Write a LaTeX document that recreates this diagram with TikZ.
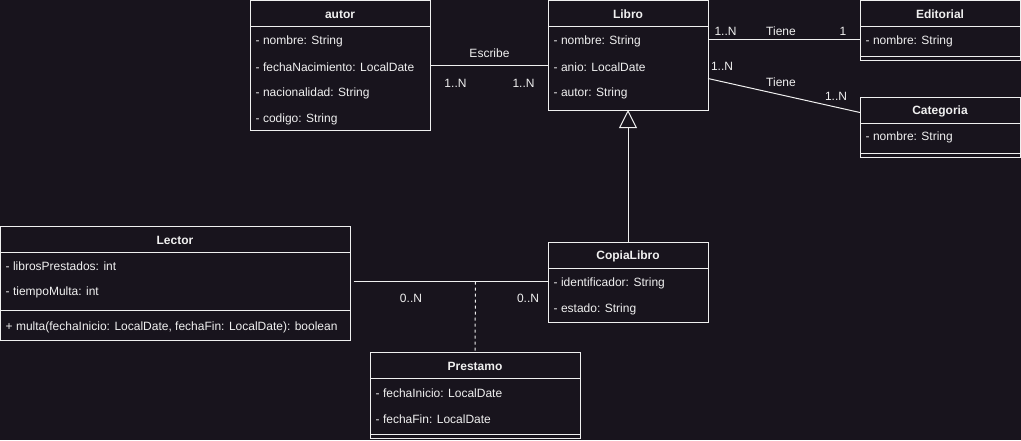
\documentclass[tikz,border=0pt]{standalone}
\usepackage{fontspec}
\setmainfont{Liberation Sans}
\usetikzlibrary{arrows.meta,calc}
\definecolor{bg}{RGB}{24,20,29}
\definecolor{fg}{RGB}{240,240,240}
\tikzset{
 cls/.style={draw=fg, fill=bg, line width=1pt, anchor=north west, inner sep=0pt, outer sep=0pt},
 hdr/.style={text=fg, font=\fontsize{12}{14}\selectfont\bfseries, inner sep=0pt, yshift=-1.2pt},
 attr/.style={text=fg, font=\fontsize{12}{14}\selectfont, anchor=west, inner sep=0pt, xshift=1.5pt, yshift=-1.5pt},
 lbl/.style={text=fg, font=\fontsize{12}{14}\selectfont, inner sep=0pt, yshift=-1.5pt},
 sepline/.style={draw=fg, line width=1pt},
 conn/.style={draw=fg, line width=1pt},
}
\begin{document}
\begin{tikzpicture}[x=1pt,y=-1pt]
\fill[bg] (0,0) rectangle (1021,440);
\useasboundingbox (0,0) rectangle (1021,440);

% autor
\node[cls, minimum width=180pt, minimum height=129.5pt] (autor) at (250,0.5) {};
\draw[sepline] (250,26) -- (430,26);
\node[hdr] (autorH) at (340,13) {autor};
\node[attr] (a1) at (254,39.5) {- nombre: String};
\node[attr] (a2) at (254,65.5) {- fechaNacimiento: LocalDate};
\node[attr] (a3) at (254,91.5) {- nacionalidad: String};
\node[attr] (a4) at (254,117.5) {- codigo: String};

% Libro
\node[cls, minimum width=160pt, minimum height=109.5pt] (Libro) at (548,0.5) {};
\draw[sepline] (548,26) -- (708,26);
\node[hdr] (libroH) at (628,13) {Libro};
\node[attr] (l1) at (552,39.5) {- nombre: String};
\node[attr] (l2) at (552,65.5) {- anio: LocalDate};
\node[attr] (l3) at (552,91.5) {- autor: String};

% Editorial
\node[cls, minimum width=160pt, minimum height=59.5pt] (Editorial) at (860,0.5) {};
\draw[sepline] (860,26) -- (1020,26);
\draw[sepline] (860,56) -- (1020,56);
\node[hdr] (editH) at (940,13) {Editorial};
\node[attr] (e1) at (864,39.5) {- nombre: String};

% Categoria
\node[cls, minimum width=160pt, minimum height=60pt] (Categoria) at (860,97) {};
\draw[sepline] (860,123) -- (1020,123);
\draw[sepline] (860,153) -- (1020,153);
\node[hdr] (catH) at (940,110) {Categoria};
\node[attr] (k1) at (864,136) {- nombre: String};

% Lector
\node[cls, minimum width=350pt, minimum height=114pt] (Lector) at (0.5,226) {};
\draw[sepline] (0.5,252) -- (350.5,252);
\draw[sepline] (0.5,310) -- (350.5,310);
\node[hdr] (lecH) at (175,239) {Lector};
\node[attr] (r1) at (4,265) {- librosPrestados: int};
\node[attr] (r2) at (4,291) {- tiempoMulta: int};
\node[attr] (r3) at (4,326) {+ multa(fechaInicio: LocalDate, fechaFin: LocalDate): boolean};

% CopiaLibro
\node[cls, minimum width=160pt, minimum height=80pt] (CopiaLibro) at (548,242) {};
\draw[sepline] (548,268) -- (708,268);
\node[hdr] (copH) at (628,255) {CopiaLibro};
\node[attr] (c1) at (552,281.5) {- identificador: String};
\node[attr] (c2) at (552,307.5) {- estado: String};

% Prestamo
\node[cls, minimum width=210pt, minimum height=86pt] (Prestamo) at (370,352.5) {};
\draw[sepline] (370,378) -- (580,378);
\draw[sepline] (370,434) -- (580,434);
\node[hdr] (preH) at (475,365) {Prestamo};
\node[attr] (p1) at (374,391.5) {- fechaInicio: LocalDate};
\node[attr] (p2) at (374,417.5) {- fechaFin: LocalDate};

% autor -- Libro
\draw[conn] (autor.east |- 0,65.5) -- (Libro.west |- 0,65.5);
\node[lbl] (escribe) at (489.5,51.5) {Escribe};
\node[lbl] (m1) at (455.5,81.5) {1..N};
\node[lbl] (m2) at (523.5,81.5) {1..N};

% Libro -- Editorial
\draw[conn] (Libro.east |- 0,39.5) -- (Editorial.west |- 0,39.5);
\node[lbl] (m3) at (725.5,29.5) {1..N};
\node[lbl] (tiene1) at (781,29.5) {Tiene};
\node[lbl] (m4) at (843,29.5) {1};

% Libro -- Categoria
\draw[conn] ($(Libro.north east)+(0,78)$) -- ($(Categoria.north west)+(0,15.5)$);
\node[lbl] (m5) at (722,65) {1..N};
\node[lbl] (tiene2) at (781,81) {Tiene};
\node[lbl] (m6) at (836,95) {1..N};

% inheritance
\draw[conn, -{Triangle[open, length=18pt, width=18pt]}] (CopiaLibro.north) -- (Libro.south);

% Lector -- CopiaLibro
\draw[conn, shorten <=3pt] (Lector.east |- 0,281.5) -- (CopiaLibro.west |- 0,281.5);
\node[lbl] (m7) at (411,296.5) {0..N};
\node[lbl] (m8) at (528,296.5) {0..N};
\coordinate (mid) at (475.5,281.5);
\draw[conn, dash pattern=on 3pt off 3pt] (mid) -- (Prestamo.north);
\end{tikzpicture}
\end{document}
